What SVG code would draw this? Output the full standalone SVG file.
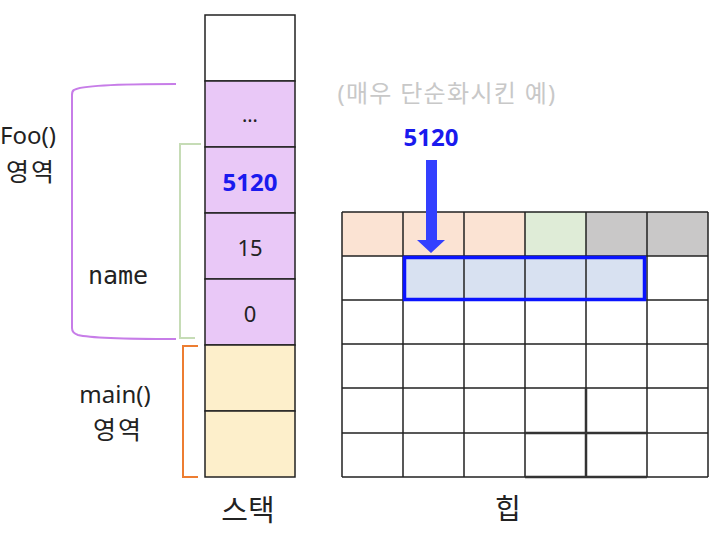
<svg xmlns="http://www.w3.org/2000/svg" width="726" height="537" viewBox="0 0 726 537">
<style>
.cell{stroke:#222;stroke-width:1.5}
.t{font-family:"Noto Sans","Noto Sans CJK KR",sans-serif;fill:#222}
.k{font-family:"Noto Sans CJK KR",sans-serif;fill:#222}
.b{font-family:"Noto Sans",sans-serif;font-weight:bold;fill:#1a1aee;font-size:24px}
.g{stroke:#222;stroke-width:1.5;fill:none}
</style>
<rect width="726" height="537" fill="#fff"/>
<g id="stack">
<rect class="cell" x="205" y="15" width="90" height="66" fill="#fff"/>
<rect class="cell" x="205" y="81" width="90" height="66" fill="#e9c8f7"/>
<rect class="cell" x="205" y="147" width="90" height="66" fill="#e9c8f7"/>
<rect class="cell" x="205" y="213" width="90" height="66" fill="#e9c8f7"/>
<rect class="cell" x="205" y="279" width="90" height="66" fill="#e9c8f7"/>
<rect class="cell" x="205" y="345" width="90" height="66" fill="#fdefcb"/>
<rect class="cell" x="205" y="411" width="90" height="66" fill="#fdefcb"/>
<text class="t" x="250" y="122" font-size="20" text-anchor="middle">…</text>
<text class="b" x="250" y="191" text-anchor="middle">5120</text>
<text class="t" x="250" y="256" font-size="22" text-anchor="middle">15</text>
<text class="t" x="250" y="322" font-size="22" text-anchor="middle">0</text>
<text class="k" x="248" y="521" font-size="29" text-anchor="middle">스택</text>
</g>
<g id="heap">
<rect x="342" y="212" width="183" height="44" fill="#fbe3d3"/>
<rect x="525" y="212" width="61" height="44" fill="#dfecd7"/>
<rect x="586" y="212" width="122" height="44" fill="#c9c8c8"/>
<rect x="403" y="256" width="244" height="44" fill="#d8e1f1"/>
<path class="g" d="M342 212H708M342 256H708M342 300H708M342 344H708M342 388H708M342 433H708M342 477H708M342 212V477M403 212V477M464 212V477M525 212V477M586 212V477M647 212V477M708 212V477"/>
<path d="M525 433H647M525 477H647M586 388V477" stroke="#333" stroke-width="2.5" fill="none"/>
<rect x="404.5" y="257.5" width="240" height="42" fill="none" stroke="#0a14ff" stroke-width="3.5"/>
<text class="k" x="508" y="519" font-size="28" text-anchor="middle">힙</text>
<text x="447" y="102" font-size="24" letter-spacing="1.3" text-anchor="middle" font-family="Noto Sans,Noto Sans CJK KR,sans-serif" fill="#c8c8c8">(매우 단순화시킨 예)</text>
</g>
<g id="pointer">
<text class="b" x="431" y="146" text-anchor="middle">5120</text>
<path d="M426 160H437V240H445L431 253L417 240H426Z" fill="#3340ff"/>
</g>
<g id="brackets">
<path d="M176 84C120 84 80 86 74 90Q72 91 72 95V328Q72 333 78 335C90 338 130 339 176 339" fill="none" stroke="#c77de8" stroke-width="2"/>
<path d="M201 144H180V338H195" fill="none" stroke="#c6dcb6" stroke-width="2"/>
<path d="M198 346H183V477H198" fill="none" stroke="#ed7d31" stroke-width="2"/>
</g>
<g id="labels">
<text class="t" x="28" y="144" font-size="24" text-anchor="middle">Foo()</text>
<text class="k" x="31" y="181" font-size="25" letter-spacing="2" text-anchor="middle">영역</text>
<text x="118" y="284" font-size="25" text-anchor="middle" font-family="DejaVu Sans Mono,monospace" fill="#222">name</text>
<text class="t" x="115" y="403" font-size="24" text-anchor="middle">main()</text>
<text class="k" x="118" y="439" font-size="25" letter-spacing="2" text-anchor="middle">영역</text>
</g>
</svg>
